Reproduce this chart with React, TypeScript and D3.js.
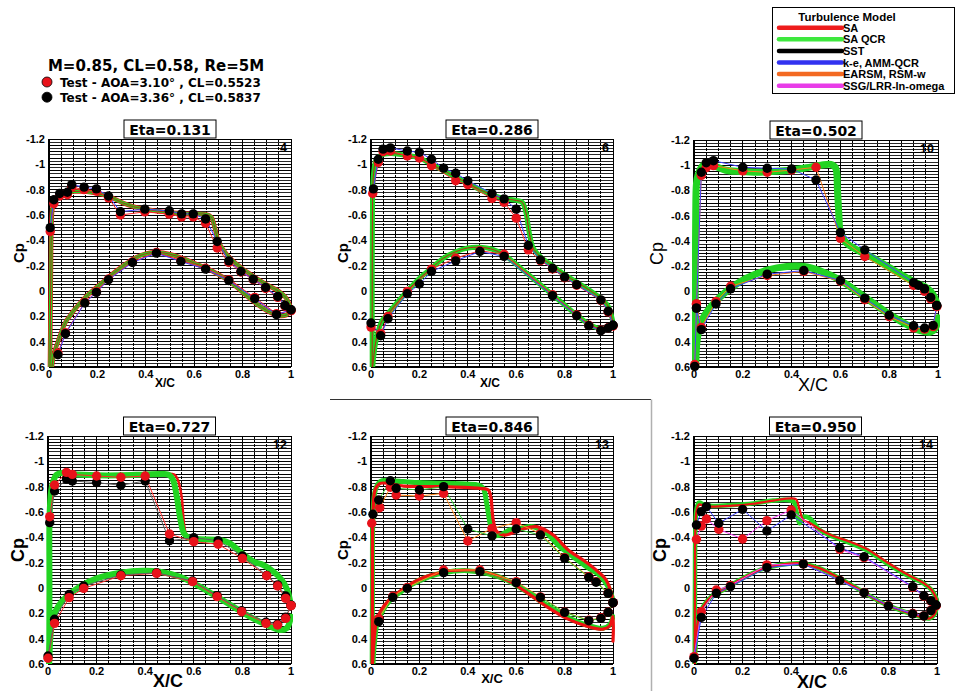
import * as d3 from "d3";

type Pt = [number, number];

const SANS = "'Liberation Sans', Arial, sans-serif";
const WIDE = "'DejaVu Sans', Verdana, sans-serif";

/* ------------------------------------------------------------------ */
/*  Labels                                                            */
/* ------------------------------------------------------------------ */

const flowTitle = "M=0.85, CL=0.58, Re=5M";
const testLabels = ["Test - AOA=3.10° , CL=0.5523", "Test - AOA=3.36° , CL=0.5837"];
const testColors = ["#e8121a", "#000000"];
const modelNames = ["SA", "SA QCR", "SST", "k-e, AMM-QCR", "EARSM, RSM-w", "SSG/LRR-ln-omega"];
const modelColors = ["#ee1c1c", "#3ee83e", "#000000", "#3232f0", "#f36a22", "#e83ce8"];
const etaLabels = ["Eta=0.131", "Eta=0.286", "Eta=0.502", "Eta=0.727", "Eta=0.846", "Eta=0.950"];
const panelNumbers = ["4", "6", "10", "12", "13", "14"];
const cpTicks = [-1.2, -1, -0.8, -0.6, -0.4, -0.2, 0, 0.2, 0.4, 0.6];
const xcTicks = [0, 0.2, 0.4, 0.6, 0.8, 1];

/* ------------------------------------------------------------------ */
/*  Eta = 0.131                                                       */
/* ------------------------------------------------------------------ */

const e131CfdUp: Pt[] = [[0.004, 0.6], [0.006, 0.2], [0.008, -0.2], [0.01, -0.5], [0.015, -0.66], [0.03, -0.74], [0.05, -0.77], [0.1, -0.785], [0.15, -0.785], [0.2, -0.77], [0.25, -0.745], [0.3, -0.7], [0.35, -0.665], [0.4, -0.645], [0.45, -0.63], [0.5, -0.62], [0.55, -0.612], [0.6, -0.608], [0.65, -0.605], [0.67, -0.585], [0.685, -0.5], [0.7, -0.39], [0.72, -0.325], [0.75, -0.255], [0.8, -0.175], [0.85, -0.11], [0.9, -0.05], [0.95, 0.003], [0.98, 0.056], [1.0, 0.14]];
const e131CfdLo: Pt[] = [[0.012, 0.6], [0.02, 0.5], [0.037, 0.4], [0.05, 0.33], [0.07, 0.24], [0.085, 0.2], [0.1, 0.16], [0.15, 0.05], [0.2, -0.035], [0.25, -0.115], [0.3, -0.19], [0.35, -0.255], [0.4, -0.295], [0.45, -0.305], [0.5, -0.29], [0.55, -0.26], [0.6, -0.22], [0.65, -0.18], [0.7, -0.13], [0.75, -0.07], [0.8, 0.01], [0.85, 0.09], [0.9, 0.155], [0.95, 0.195], [0.98, 0.19], [1.0, 0.15]];
const e131BlackUp: Pt[] = [[0.005, -0.5], [0.02, -0.72], [0.044, -0.77], [0.076, -0.78], [0.094, -0.84], [0.145, -0.82], [0.196, -0.806], [0.246, -0.75], [0.295, -0.627], [0.396, -0.646], [0.497, -0.633], [0.548, -0.609], [0.596, -0.609], [0.647, -0.569], [0.695, -0.391], [0.743, -0.238], [0.793, -0.154], [0.844, -0.094], [0.895, -0.028], [0.945, 0.043], [0.975, 0.114], [1.0, 0.148]];
const e131BlackLo: Pt[] = [[0.037, 0.503], [0.068, 0.337], [0.148, 0.095], [0.196, 0.011], [0.246, -0.089], [0.345, -0.225], [0.444, -0.299], [0.545, -0.233], [0.647, -0.173], [0.743, -0.083], [0.85, 0.06], [0.94, 0.187], [1.0, 0.148]];
const e131RedUp: Pt[] = [[0.005, -0.47], [0.02, -0.69], [0.044, -0.75], [0.076, -0.76], [0.094, -0.82], [0.145, -0.8], [0.196, -0.79], [0.246, -0.735], [0.295, -0.6], [0.396, -0.625], [0.497, -0.607], [0.548, -0.585], [0.596, -0.585], [0.647, -0.535], [0.695, -0.34], [0.743, -0.225], [0.793, -0.15], [0.844, -0.09], [0.895, -0.02], [0.945, 0.05], [0.975, 0.12], [1.0, 0.155]];
const e131RedLo: Pt[] = [[0.037, 0.49], [0.068, 0.33], [0.148, 0.09], [0.196, 0.005], [0.246, -0.095], [0.345, -0.23], [0.444, -0.305], [0.545, -0.24], [0.647, -0.18], [0.743, -0.09], [0.85, 0.05], [0.94, 0.18], [1.0, 0.155]];

/* ------------------------------------------------------------------ */
/*  Eta = 0.286                                                       */
/* ------------------------------------------------------------------ */

const e286CfdUp: Pt[] = [[0.005, 0.6], [0.005, 0.0], [0.006, -0.6], [0.008, -0.85], [0.012, -0.95], [0.02, -1.03], [0.04, -1.07], [0.08, -1.085], [0.15, -1.07], [0.2, -1.05], [0.25, -1.0], [0.3, -0.95], [0.35, -0.9], [0.4, -0.85], [0.45, -0.8], [0.5, -0.76], [0.55, -0.73], [0.6, -0.715], [0.625, -0.7], [0.64, -0.62], [0.655, -0.45], [0.67, -0.34], [0.7, -0.27], [0.75, -0.2], [0.8, -0.13], [0.85, -0.07], [0.9, -0.01], [0.95, 0.06], [0.98, 0.12], [1.0, 0.25]];
const e286CfdLo: Pt[] = [[0.007, 0.6], [0.02, 0.4], [0.044, 0.24], [0.07, 0.18], [0.1, 0.11], [0.15, 0.0], [0.2, -0.1], [0.25, -0.18], [0.3, -0.26], [0.35, -0.31], [0.4, -0.34], [0.45, -0.345], [0.5, -0.33], [0.55, -0.285], [0.6, -0.21], [0.65, -0.13], [0.7, -0.05], [0.75, 0.03], [0.8, 0.11], [0.85, 0.19], [0.9, 0.26], [0.95, 0.3], [0.98, 0.285], [1.0, 0.25]];
const e286BlackUp: Pt[] = [[0.01, -0.806], [0.03, -1.04], [0.05, -1.12], [0.08, -1.13], [0.15, -1.105], [0.2, -1.095], [0.25, -1.04], [0.3, -0.97], [0.35, -0.93], [0.4, -0.87], [0.5, -0.77], [0.55, -0.727], [0.6, -0.646], [0.65, -0.36], [0.7, -0.246], [0.75, -0.18], [0.8, -0.11], [0.85, -0.05], [0.95, 0.07], [0.98, 0.16], [1.0, 0.27]];
const e286BlackLo: Pt[] = [[0.0, 0.253], [0.04, 0.353], [0.07, 0.219], [0.15, 0.022], [0.2, -0.055], [0.25, -0.154], [0.35, -0.238], [0.45, -0.312], [0.55, -0.273], [0.75, 0.037], [0.85, 0.195], [0.9, 0.274], [0.95, 0.313], [0.98, 0.292], [1.0, 0.27]];
const e286RedUp: Pt[] = [[0.007, -0.77], [0.03, -1.016], [0.05, -1.1], [0.08, -1.105], [0.15, -1.066], [0.2, -1.05], [0.25, -0.99], [0.35, -0.87], [0.4, -0.84], [0.5, -0.73], [0.55, -0.7], [0.6, -0.575], [0.65, -0.325], [0.7, -0.24], [0.75, -0.175], [0.8, -0.105], [0.85, -0.045], [0.95, 0.075], [0.98, 0.165], [1.0, 0.275]];
const e286RedLo: Pt[] = [[0.0, 0.285], [0.04, 0.337], [0.07, 0.2], [0.15, 0.003], [0.25, -0.173], [0.35, -0.26], [0.45, -0.318], [0.55, -0.29], [0.75, 0.03], [0.85, 0.19], [0.9, 0.27], [0.95, 0.31], [0.98, 0.29], [1.0, 0.275]];

/* ------------------------------------------------------------------ */
/*  Eta = 0.502                                                       */
/* ------------------------------------------------------------------ */

const e502CfdUp: Pt[] = [[0.004, 0.6], [0.005, 0.0], [0.007, -0.6], [0.01, -0.85], [0.016, -0.92], [0.037, -1.0], [0.065, -1.01], [0.09, -0.99], [0.13, -0.96], [0.19, -0.95], [0.26, -0.944], [0.32, -0.95], [0.39, -0.96], [0.46, -0.98], [0.52, -1.0], [0.56, -1.007], [0.58, -0.98], [0.588, -0.8], [0.594, -0.6], [0.6, -0.47], [0.626, -0.38], [0.667, -0.33], [0.735, -0.263], [0.804, -0.184], [0.873, -0.105], [0.914, -0.065], [0.955, -0.026], [0.98, 0.027], [1.0, 0.12]];
const e502CfdLo: Pt[] = [[0.007, 0.6], [0.012, 0.4], [0.023, 0.28], [0.037, 0.21], [0.064, 0.133], [0.105, 0.048], [0.15, -0.026], [0.215, -0.105], [0.3, -0.168], [0.38, -0.197], [0.45, -0.197], [0.516, -0.163], [0.596, -0.092], [0.667, 0.0], [0.735, 0.093], [0.804, 0.186], [0.873, 0.265], [0.927, 0.312], [0.968, 0.323], [0.99, 0.29], [1.0, 0.21]];
const e502BlackUp: Pt[] = [[0.003, 0.595], [0.01, 0.133], [0.03, -0.944], [0.05, -1.02], [0.08, -1.036], [0.2, -0.984], [0.3, -0.976], [0.4, -0.97], [0.5, -0.883], [0.6, -0.466], [0.7, -0.329], [0.9, -0.07], [0.92, -0.047], [0.945, -0.02], [0.97, 0.048], [0.995, 0.112]];
const e502BlackLo: Pt[] = [[0.01, 0.133], [0.03, 0.304], [0.09, 0.1], [0.15, -0.02], [0.3, -0.136], [0.45, -0.165], [0.6, -0.086], [0.7, 0.054], [0.8, 0.19], [0.9, 0.273], [0.945, 0.291], [0.98, 0.27], [0.995, 0.112]];
const e502RedUp: Pt[] = [[0.003, 0.58], [0.01, 0.1], [0.03, -0.92], [0.05, -0.98], [0.08, -0.997], [0.2, -0.955], [0.3, -0.944], [0.4, -0.962], [0.5, -0.984], [0.6, -0.42], [0.7, -0.276], [0.9, -0.047], [0.945, 0.0], [0.97, 0.06], [0.995, 0.12]];
const e502RedLo: Pt[] = [[0.01, 0.1], [0.03, 0.286], [0.09, 0.08], [0.15, -0.04], [0.3, -0.126], [0.45, -0.158], [0.6, -0.08], [0.7, 0.067], [0.8, 0.2], [0.9, 0.29], [0.945, 0.3], [0.98, 0.28], [0.995, 0.12]];

/* ------------------------------------------------------------------ */
/*  Eta = 0.727                                                       */
/* ------------------------------------------------------------------ */

const e727CfdUp: Pt[] = [[0.005, 0.6], [0.006, 0.0], [0.007, -0.6], [0.016, -0.8], [0.034, -0.892], [0.062, -0.91], [0.1, -0.9], [0.2, -0.89], [0.3, -0.89], [0.39, -0.895], [0.474, -0.9], [0.5, -0.89], [0.515, -0.85], [0.53, -0.72], [0.545, -0.54], [0.56, -0.43], [0.584, -0.39], [0.625, -0.384], [0.707, -0.379], [0.749, -0.353], [0.79, -0.287], [0.845, -0.208], [0.886, -0.182], [0.927, -0.13], [0.962, -0.063], [0.985, 0.016], [1.0, 0.147]];
const e727SaUp: Pt[] = [[0.005, 0.6], [0.006, 0.0], [0.007, -0.6], [0.016, -0.8], [0.034, -0.892], [0.062, -0.91], [0.1, -0.9], [0.2, -0.89], [0.3, -0.89], [0.39, -0.895], [0.474, -0.9], [0.52, -0.895], [0.535, -0.85], [0.55, -0.72], [0.56, -0.5], [0.57, -0.42], [0.59, -0.39], [0.625, -0.384], [0.707, -0.379], [0.749, -0.353], [0.79, -0.287], [0.845, -0.208], [0.886, -0.182], [0.927, -0.13], [0.962, -0.063], [0.985, 0.016], [1.0, 0.147]];
const e727CfdLo: Pt[] = [[0.004, 0.6], [0.01, 0.384], [0.02, 0.24], [0.041, 0.147], [0.076, 0.068], [0.13, -0.01], [0.2, -0.076], [0.3, -0.121], [0.39, -0.137], [0.46, -0.129], [0.543, -0.089], [0.625, -0.01], [0.694, 0.068], [0.762, 0.147], [0.83, 0.226], [0.9, 0.292], [0.955, 0.332], [0.982, 0.318], [1.0, 0.226]];
const e727BlackUp: Pt[] = [[0.007, -0.516], [0.027, -0.766], [0.076, -0.86], [0.1, -0.845], [0.2, -0.832], [0.3, -0.811], [0.4, -0.845], [0.5, -0.374], [0.6, -0.397], [0.7, -0.374], [0.8, -0.253], [0.9, -0.1], [0.945, -0.025], [0.978, 0.063], [1.0, 0.135]];
const e727BlackLo: Pt[] = [[0.0, 0.537], [0.027, 0.247], [0.087, 0.05], [0.147, -0.016], [0.3, -0.103], [0.447, -0.12], [0.595, -0.055], [0.696, 0.06], [0.797, 0.18], [0.897, 0.27], [0.945, 0.285], [0.978, 0.23], [1.0, 0.135]];
const e727RedUp: Pt[] = [[0.007, -0.563], [0.027, -0.813], [0.076, -0.913], [0.1, -0.897], [0.2, -0.884], [0.3, -0.874], [0.4, -0.884], [0.5, -0.426], [0.6, -0.366], [0.7, -0.345], [0.8, -0.234], [0.9, -0.097], [0.945, -0.016], [0.978, 0.082], [1.0, 0.139]];
const e727RedLo: Pt[] = [[0.0, 0.555], [0.027, 0.279], [0.087, 0.076], [0.147, 0.003], [0.3, -0.097], [0.447, -0.116], [0.595, -0.05], [0.696, 0.068], [0.797, 0.187], [0.897, 0.279], [0.945, 0.292], [0.978, 0.24], [1.0, 0.139]];

/* ------------------------------------------------------------------ */
/*  Eta = 0.846                                                       */
/* ------------------------------------------------------------------ */

const e846CfdUp: Pt[] = [[0.005, 0.6], [0.006, 0.0], [0.008, -0.55], [0.018, -0.774], [0.038, -0.84], [0.08, -0.847], [0.135, -0.84], [0.2, -0.832], [0.3, -0.826], [0.396, -0.821], [0.444, -0.813], [0.464, -0.787], [0.478, -0.668], [0.492, -0.511], [0.505, -0.418], [0.533, -0.418], [0.574, -0.458], [0.615, -0.471], [0.67, -0.484], [0.725, -0.432], [0.78, -0.326], [0.835, -0.247], [0.89, -0.168], [0.945, -0.1], [0.98, -0.01], [1.0, 0.095]];
const e846SaUp: Pt[] = [[0.005, 0.6], [0.006, 0.0], [0.008, -0.55], [0.018, -0.78], [0.038, -0.826], [0.135, -0.805], [0.3, -0.8], [0.45, -0.787], [0.485, -0.774], [0.495, -0.72], [0.505, -0.537], [0.52, -0.445], [0.553, -0.418], [0.615, -0.458], [0.684, -0.484], [0.753, -0.418], [0.815, -0.3], [0.876, -0.221], [0.93, -0.142], [0.972, -0.063], [0.997, 0.068]];
const e846CfdLo: Pt[] = [[0.008, 0.6], [0.014, 0.437], [0.025, 0.279], [0.045, 0.187], [0.08, 0.095], [0.135, 0.016], [0.2, -0.063], [0.3, -0.121], [0.396, -0.137], [0.478, -0.116], [0.56, -0.063], [0.643, 0.029], [0.725, 0.134], [0.808, 0.226], [0.89, 0.292], [0.959, 0.318], [0.986, 0.292], [1.0, 0.226]];
const e846SaLo: Pt[] = [[0.006, 0.6], [0.012, 0.43], [0.022, 0.27], [0.04, 0.18], [0.08, 0.085], [0.135, 0.005], [0.2, -0.07], [0.3, -0.125], [0.396, -0.14], [0.478, -0.12], [0.56, -0.065], [0.643, 0.035], [0.725, 0.145], [0.808, 0.24], [0.89, 0.3], [0.959, 0.325], [0.986, 0.3], [1.0, 0.226], [1.0, 0.42]];
const e846BlackUp: Pt[] = [[0.008, -0.582], [0.032, -0.695], [0.08, -0.847], [0.104, -0.787], [0.2, -0.774], [0.3, -0.8], [0.4, -0.466], [0.5, -0.411], [0.6, -0.466], [0.7, -0.418], [0.8, -0.234], [0.9, -0.084], [0.93, -0.045], [0.98, 0.042], [1.0, 0.116]];
const e846BlackLo: Pt[] = [[0.032, 0.266], [0.09, 0.074], [0.15, 0.003], [0.3, -0.121], [0.45, -0.129], [0.6, -0.042], [0.7, 0.074], [0.8, 0.192], [0.9, 0.258], [0.95, 0.24], [0.98, 0.192], [1.0, 0.116]];
const e846RedUp: Pt[] = [[0.003, -0.511], [0.036, -0.634], [0.08, -0.795], [0.104, -0.734], [0.2, -0.726], [0.3, -0.747], [0.4, -0.371], [0.5, -0.471], [0.6, -0.516], [0.7, -0.43], [0.8, -0.24], [0.9, -0.09], [0.93, -0.05], [0.98, 0.04], [1.0, 0.116]];
const e846RedLo: Pt[] = [[0.032, 0.24], [0.09, 0.065], [0.15, -0.005], [0.3, -0.142], [0.45, -0.142], [0.6, -0.05], [0.7, 0.07], [0.8, 0.19], [0.9, 0.255], [0.95, 0.235], [0.98, 0.19], [1.0, 0.116]];

/* ------------------------------------------------------------------ */
/*  Eta = 0.950                                                       */
/* ------------------------------------------------------------------ */

const e950CfdUp: Pt[] = [[0.003, 0.6], [0.004, 0.0], [0.006, -0.5], [0.01, -0.616], [0.02, -0.674], [0.044, -0.655], [0.078, -0.647], [0.16, -0.655], [0.243, -0.668], [0.326, -0.69], [0.38, -0.695], [0.41, -0.68], [0.42, -0.616], [0.435, -0.511], [0.45, -0.563], [0.477, -0.55], [0.518, -0.458], [0.573, -0.405], [0.628, -0.366], [0.71, -0.3], [0.793, -0.195], [0.875, -0.103], [0.944, -0.037], [0.978, 0.016], [1.0, 0.095]];
const e950SaUp: Pt[] = [[0.003, 0.6], [0.004, 0.0], [0.006, -0.5], [0.01, -0.6], [0.02, -0.66], [0.044, -0.645], [0.16, -0.65], [0.243, -0.665], [0.326, -0.69], [0.4, -0.708], [0.42, -0.7], [0.435, -0.616], [0.45, -0.537], [0.48, -0.51], [0.52, -0.46], [0.573, -0.41], [0.628, -0.375], [0.71, -0.31], [0.793, -0.205], [0.875, -0.11], [0.944, -0.04], [0.978, 0.016], [1.0, 0.095]];
const e950CfdLo: Pt[] = [[0.003, 0.6], [0.01, 0.358], [0.02, 0.226], [0.037, 0.147], [0.071, 0.068], [0.12, 0.016], [0.188, -0.063], [0.27, -0.142], [0.353, -0.182], [0.435, -0.195], [0.518, -0.155], [0.6, -0.076], [0.683, 0.016], [0.765, 0.108], [0.848, 0.174], [0.93, 0.226], [0.97, 0.24], [0.992, 0.2], [1.0, 0.12]];
const e950BlackUp: Pt[] = [[0.01, -0.497], [0.03, -0.603], [0.051, -0.642], [0.102, -0.511], [0.2, -0.621], [0.3, -0.45], [0.4, -0.576], [0.6, -0.318], [0.7, -0.247], [0.9, -0.011], [0.946, 0.061], [0.975, 0.1], [0.996, 0.134]];
const e950BlackLo: Pt[] = [[0.0, 0.555], [0.03, 0.232], [0.092, 0.042], [0.15, -0.011], [0.3, -0.161], [0.45, -0.19], [0.6, -0.058], [0.7, 0.037], [0.8, 0.142], [0.9, 0.205], [0.946, 0.221], [0.975, 0.179], [0.996, 0.134]];
const e950RedUp: Pt[] = [[0.01, -0.384], [0.03, -0.489], [0.051, -0.545], [0.102, -0.463], [0.2, -0.387], [0.3, -0.532], [0.4, -0.616], [0.6, -0.305], [0.7, -0.24], [0.9, -0.005], [0.946, 0.065], [0.975, 0.105], [0.996, 0.14]];
const e950RedLo: Pt[] = [[0.0, 0.542], [0.03, 0.187], [0.092, 0.016], [0.15, -0.02], [0.3, -0.182], [0.45, -0.19], [0.6, -0.06], [0.7, 0.035], [0.8, 0.14], [0.9, 0.2], [0.946, 0.22], [0.975, 0.175], [0.996, 0.14]];

/* ------------------------------------------------------------------ */
/*  Panel table (data) and layout (positions / styles)               */
/* ------------------------------------------------------------------ */

const panelData = [
  { cfdUp: e131CfdUp, cfdLo: e131CfdLo, saUp: e131CfdUp, saLo: e131CfdLo, redUp: e131RedUp, redLo: e131RedLo, blackUp: e131BlackUp, blackLo: e131BlackLo },
  { cfdUp: e286CfdUp, cfdLo: e286CfdLo, saUp: e286CfdUp, saLo: e286CfdLo, redUp: e286RedUp, redLo: e286RedLo, blackUp: e286BlackUp, blackLo: e286BlackLo },
  { cfdUp: e502CfdUp, cfdLo: e502CfdLo, saUp: e502CfdUp, saLo: e502CfdLo, redUp: e502RedUp, redLo: e502RedLo, blackUp: e502BlackUp, blackLo: e502BlackLo },
  { cfdUp: e727CfdUp, cfdLo: e727CfdLo, saUp: e727SaUp, saLo: e727CfdLo, redUp: e727RedUp, redLo: e727RedLo, blackUp: e727BlackUp, blackLo: e727BlackLo },
  { cfdUp: e846CfdUp, cfdLo: e846CfdLo, saUp: e846SaUp, saLo: e846SaLo, redUp: e846RedUp, redLo: e846RedLo, blackUp: e846BlackUp, blackLo: e846BlackLo },
  { cfdUp: e950CfdUp, cfdLo: e950CfdLo, saUp: e950SaUp, saLo: e950CfdLo, redUp: e950RedUp, redLo: e950RedLo, blackUp: e950BlackUp, blackLo: e950BlackLo },
];

const layout = [
  { x0: 49, x1: 291, y0: 139, y1: 367, cpX: 18, cpSize: 15, cpWeight: 700, xcX: 165, xcY: 387, xcSize: 12, xcWeight: 700, greenW: 3.2, redW: 4.6, redOnTop: false, redDotsTop: false, redLink: "#ff2a2a", blackLink: "#4040ff" },
  { x0: 371, x1: 613, y0: 139, y1: 367, cpX: 342, cpSize: 15, cpWeight: 700, xcX: 490, xcY: 387, xcSize: 12, xcWeight: 700, greenW: 5, redW: 3, redOnTop: false, redDotsTop: false, redLink: "#ff2a2a", blackLink: "#4040ff" },
  { x0: 694, x1: 938, y0: 140, y1: 367, cpX: 657, cpSize: 18, cpWeight: 400, xcX: 813, xcY: 391, xcSize: 18, xcWeight: 400, greenW: 7, redW: 3, redOnTop: false, redDotsTop: false, redLink: "#ff7a1a", blackLink: "#4040ff" },
  { x0: 48, x1: 291, y0: 436, y1: 664, cpX: 18, cpSize: 18, cpWeight: 700, xcX: 168, xcY: 687, xcSize: 18, xcWeight: 700, greenW: 6, redW: 2.5, redOnTop: false, redDotsTop: true, redLink: "#ff2a2a", blackLink: "#606060" },
  { x0: 371, x1: 613, y0: 436, y1: 664, cpX: 342, cpSize: 15, cpWeight: 700, xcX: 492, xcY: 683, xcSize: 13, xcWeight: 700, greenW: 5, redW: 3.2, redOnTop: true, redDotsTop: false, redLink: "#ff8a1a", blackLink: "#2ec82e" },
  { x0: 694, x1: 937, y0: 436, y1: 664, cpX: 660, cpSize: 18, cpWeight: 700, xcX: 812, xcY: 688, xcSize: 18, xcWeight: 700, greenW: 4.5, redW: 2.2, redOnTop: true, redDotsTop: false, redLink: "#ff40ff", blackLink: "#4040ff" },
];

const GREEN = "#22d422";
const RED = "#ee1111";

function Panel({ idx }: { idx: number }) {
  const d = panelData[idx];
  const f = layout[idx];
  const x = d3.scaleLinear().domain([0, 1]).range([f.x0, f.x1]);
  const y = d3.scaleLinear().domain([-1.2, 0.6]).range([f.y0, f.y1]);
  const smooth = d3
    .line<Pt>()
    .x((p) => x(p[0]))
    .y((p) => y(p[1]))
    .curve(d3.curveCatmullRom.alpha(0.5));
  const straight = d3
    .line<Pt>()
    .x((p) => x(p[0]))
    .y((p) => y(p[1]));

  const hGrid = d3.range(0, 73).map((i) => -1.2 + i * 0.025);
  const vGrid = d3.range(0, 21).map((i) => i * 0.05);
  const clipId = `clip-${idx}`;

  const greenLines = (
    <g fill="none" strokeLinecap="round" strokeLinejoin="round">
      <path d={smooth(d.cfdUp) ?? ""} stroke={GREEN} strokeWidth={f.greenW} />
      <path d={smooth(d.cfdLo) ?? ""} stroke={GREEN} strokeWidth={f.greenW} />
    </g>
  );
  const redLines = (
    <g fill="none" strokeLinecap="round" strokeLinejoin="round">
      <path d={smooth(d.saUp) ?? ""} stroke={RED} strokeWidth={f.redW} />
      <path d={smooth(d.saLo) ?? ""} stroke={RED} strokeWidth={f.redW} />
    </g>
  );

  const dots = (pts: Pt[], color: string) =>
    pts.map((p, i) => <circle key={i} cx={x(p[0])} cy={y(p[1])} r={4.7} fill={color} />);

  const redDots = <g>{dots(d.redUp, testColors[0])}{dots(d.redLo, testColors[0])}</g>;
  const blackDots = <g>{dots(d.blackUp, testColors[1])}{dots(d.blackLo, testColors[1])}</g>;

  return (
    <g>
      <defs>
        <clipPath id={clipId}>
          <rect x={f.x0 - 2} y={f.y0} width={f.x1 - f.x0 + 4} height={f.y1 - f.y0} />
        </clipPath>
      </defs>

      {/* grid */}
      <g shapeRendering="crispEdges">
        {hGrid.map((v, i) => (
          <line
            key={`h${i}`}
            x1={f.x0}
            x2={f.x1}
            y1={y(v)}
            y2={y(v)}
            stroke={i % 2 === 0 ? "#000" : "#2a2a2a"}
            strokeWidth={1}
          />
        ))}
        {vGrid.map((v, i) => (
          <line
            key={`v${i}`}
            x1={x(v)}
            x2={x(v)}
            y1={f.y0}
            y2={f.y1}
            stroke="#000"
            strokeWidth={1}
            strokeDasharray={i % 4 === 0 ? undefined : "2.5,1.5"}
          />
        ))}
      </g>

      {/* axes */}
      <line x1={f.x0} x2={f.x0} y1={f.y0} y2={f.y1} stroke="#000" strokeWidth={2} />
      <line x1={f.x0} x2={f.x1} y1={f.y1} y2={f.y1} stroke="#000" strokeWidth={2} />

      {/* CFD */}
      <g clipPath={`url(#${clipId})`}>
        {f.redOnTop ? greenLines : redLines}
        {f.redOnTop ? redLines : greenLines}
        {!f.redOnTop && idx < 2 && (
          <g fill="none">
            <path d={smooth(d.saUp) ?? ""} stroke="#c81414" strokeWidth={0.9} />
            <path d={smooth(d.saLo) ?? ""} stroke="#c81414" strokeWidth={0.9} />
          </g>
        )}
        {/* test connectors */}
        <g fill="none" strokeWidth={1}>
          <path d={straight(d.redUp) ?? ""} stroke={f.redLink} />
          <path d={straight(d.redLo) ?? ""} stroke={f.redLink} />
          <path d={straight(d.blackUp) ?? ""} stroke={f.blackLink} />
          <path d={straight(d.blackLo) ?? ""} stroke={f.blackLink} />
        </g>
      </g>

      {f.redDotsTop ? blackDots : redDots}
      {f.redDotsTop ? redDots : blackDots}

      {/* tick labels */}
      <g fontFamily={SANS} fontWeight={700} fontSize={11} fill="#000">
        {cpTicks.map((v) => (
          <text key={`cy${v}`} x={f.x0 - 4} y={y(v) + 4} textAnchor="end">
            {String(v)}
          </text>
        ))}
        {xcTicks.map((v) => (
          <text key={`cx${v}`} x={x(v)} y={f.y1 + 10.5} textAnchor="middle">
            {String(v)}
          </text>
        ))}
      </g>

      {/* axis titles */}
      <text
        transform={`translate(${f.cpX},${(f.y0 + f.y1) / 2}) rotate(-90)`}
        textAnchor="middle"
        dominantBaseline="central"
        fontFamily={SANS}
        fontWeight={f.cpWeight}
        fontSize={f.cpSize}
      >
        Cp
      </text>
      <text x={f.xcX} y={f.xcY} textAnchor="middle" fontFamily={SANS} fontWeight={f.xcWeight} fontSize={f.xcSize}>
        X/C
      </text>

      {/* title box */}
      <rect x={(f.x0 + f.x1) / 2 - 46} y={f.y0 - 19} width={92} height={18} fill="#fff" stroke="#000" strokeWidth={1} />
      <text x={(f.x0 + f.x1) / 2} y={f.y0 - 4.5} textAnchor="middle" fontFamily={WIDE} fontWeight={700} fontSize={14}>
        {etaLabels[idx]}
      </text>
      <text x={f.x1 - 4} y={f.y0 + 13} textAnchor="end" fontFamily={SANS} fontWeight={700} fontSize={12.5}>
        {panelNumbers[idx]}
      </text>
    </g>
  );
}

export default function App() {
  const legendY = d3.scaleLinear().domain([0, 5]).range([27.7, 85.7]);
  return (
    <svg
      width={957}
      height={691}
      viewBox="0 0 957 691"
      style={{ position: "absolute", left: 0, top: 0, background: "#fff" }}
    >
      <rect x={0} y={0} width={957} height={691} fill="#fff" />

      {/* page frame lines */}
      <line x1={330} x2={651} y1={399.5} y2={399.5} stroke="#333" strokeWidth={1} />
      <line x1={651.5} x2={651.5} y1={399.5} y2={691} stroke="#b0b0b0" strokeWidth={1.5} />

      {/* flow condition + test legend */}
      <text x={156} y={70.7} textAnchor="middle" fontFamily={WIDE} fontWeight={700} fontSize={15}>
        {flowTitle}
      </text>
      {testLabels.map((t, i) => (
        <g key={t}>
          <circle cx={47} cy={82 + i * 15.2} r={5} fill={testColors[i]} stroke="#000" strokeWidth={0.8} />
          <text x={60} y={86.5 + i * 15.2} fontFamily={WIDE} fontWeight={700} fontSize={12}>
            {t}
          </text>
        </g>
      ))}

      {/* turbulence model legend */}
      <rect x={772.5} y={7.5} width={182} height={86} fill="#fff" stroke="#000" strokeWidth={1} />
      <text x={847} y={20.5} textAnchor="middle" fontFamily={SANS} fontWeight={700} fontSize={11.5}>
        Turbulence Model
      </text>
      {modelNames.map((m, i) => (
        <g key={m}>
          <line x1={779} x2={842} y1={legendY(i)} y2={legendY(i)} stroke={modelColors[i]} strokeWidth={4.5} strokeLinecap="round" />
          <text x={843} y={legendY(i) + 4} fontFamily={SANS} fontWeight={700} fontSize={11}>
            {m}
          </text>
        </g>
      ))}

      {panelData.map((_, i) => (
        <Panel key={i} idx={i} />
      ))}
    </svg>
  );
}
